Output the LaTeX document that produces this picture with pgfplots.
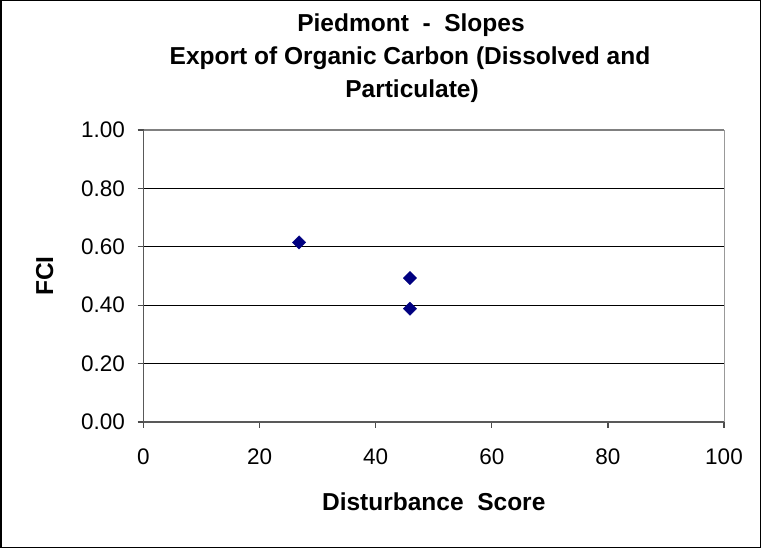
\documentclass[border=0pt]{standalone}
\usepackage{fontspec}
\setmainfont{Liberation Sans}
\usepackage{pgfplots}
\pgfplotsset{compat=1.18}
\definecolor{navymark}{HTML}{000080}
\begin{document}
\begin{tikzpicture}
\useasboundingbox (0,0) rectangle (761bp,548bp);
\draw[black, line width=1.5bp] (0.75bp,0.75bp) rectangle (760.25bp,547.25bp);
\node[anchor=base, font=\fontsize{24.5bp}{29bp}\selectfont\bfseries] at (411bp,516bp) {Piedmont\ \ -\ \ Slopes};
\node[anchor=base, font=\fontsize{24.5bp}{29bp}\selectfont\bfseries] at (410bp,483bp) {Export of Organic Carbon (Dissolved and};
\node[anchor=base, font=\fontsize{24.5bp}{29bp}\selectfont\bfseries] at (412bp,450bp) {Particulate)};
\begin{axis}[
  at={(143.5bp,126bp)}, anchor=south west,
  scale only axis, width=580.5bp, height=292bp,
  xmin=0, xmax=100, ymin=0, ymax=1,
  xtick={0,20,40,60,80,100},
  ytick={0,0.2,0.4,0.6,0.8,1},
  xtick pos=bottom, ytick pos=left,
  tick align=outside,
  major tick length=6bp,
  tick style={draw=black!70, line width=1.2bp},
  axis line style={draw=none},
  ymajorgrids,
  grid style={draw=black, line width=0.8bp},
  /pgf/number format/assume math mode=true,
  ticklabel style={font=\fontsize{22.5bp}{26bp}\selectfont},
  yticklabel style={/pgf/number format/fixed, /pgf/number format/fixed zerofill, /pgf/number format/precision=2, xshift=-9bp},
  xticklabel style={yshift=-17bp},
  xlabel={Disturbance\ \ Score},
  ylabel={FCI},
  xlabel style={at={(axis description cs:0.5,-0.3014)}, anchor=base, font=\fontsize{24.5bp}{29bp}\selectfont\bfseries},
  ylabel style={at={(axis description cs:-0.1559,0.5)}, anchor=base, font=\fontsize{24.5bp}{29bp}\selectfont\bfseries},
  clip=false,
  after end axis/.code={
    \draw[black!50, line width=1.5bp] (rel axis cs:0,1) -- (rel axis cs:1,1);
    \draw[black!40, line width=0.8bp] (rel axis cs:1,0) -- (rel axis cs:1,1);
    \draw[black!65, line width=1.5bp] (rel axis cs:0,0) -- (rel axis cs:1,0);
    \draw[black!65, line width=1.5bp] (rel axis cs:0,0) -- (rel axis cs:0,1);
  },
]
\addplot[only marks, mark=square*, mark size=4.7bp, mark options={rotate=45, fill=navymark, draw=navymark}] coordinates {
  (26.8,0.615) (45.9,0.493) (45.9,0.388)
};
\end{axis}
\end{tikzpicture}
\end{document}
